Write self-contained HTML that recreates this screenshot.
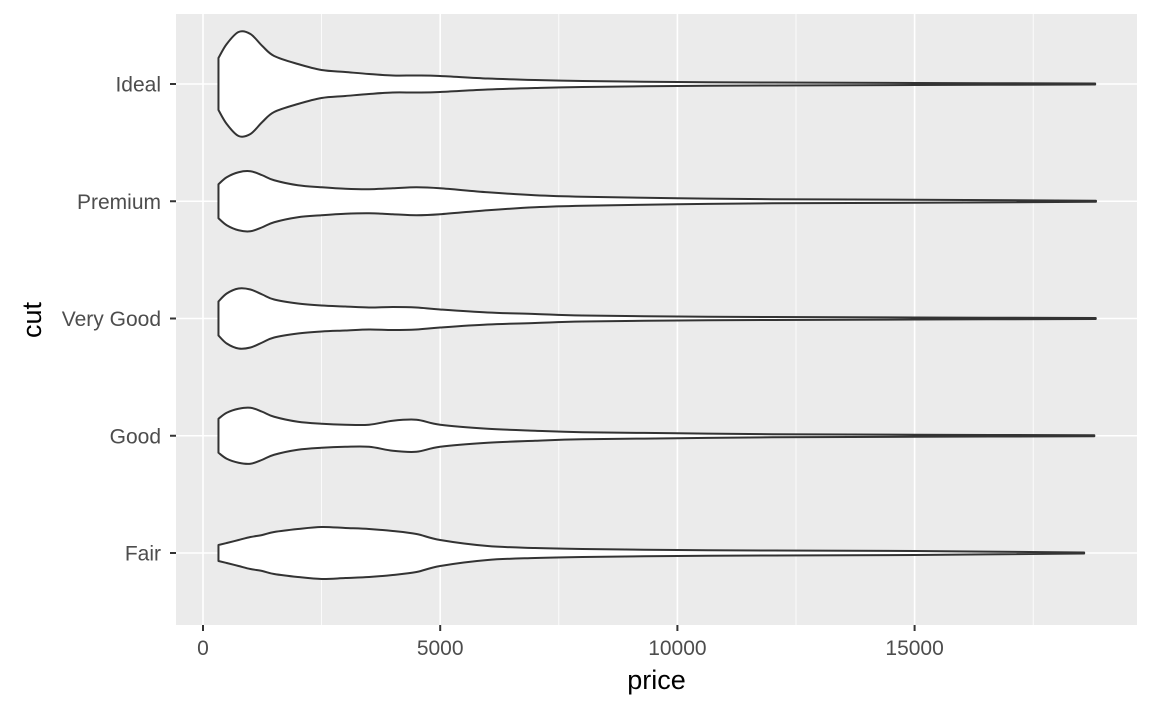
<!DOCTYPE html>
<html><head><meta charset="utf-8"><style>
body{margin:0;background:#fff;}
svg{display:block;font-family:"Liberation Sans",Arial,sans-serif;}
</style></head><body>
<svg id="chart" width="1152" height="711"></svg>
<script>
const categories=["Ideal","Premium","Very Good","Good","Fair"];
const prices=[326,500,750,1000,1250,1500,2000,2500,3000,3500,4000,4500,5000,6000,7000,8000,10000,12000,15000,18823];
const maxPrice=[18806,18823,18818,18788,18574];
const wIdeal=[26,40,52,50,38,28,20,14,12,10,8.5,8.5,8,5.5,4,3,2,1.5,1,0.5];
const wPremium=[17,24,29,30,26,21,16,14,12.5,12,13,14,13,9,6,4.5,3,2,1.5,0.5];
const wVeryGood=[17,25,30,29,24,19,15,13,12,11,11.5,11,9,6,4.5,3,2,1.5,1,0.5];
const wGood=[17,23,27,28,24,19,14,12,11,11,15,16,11,7,5,3.5,2.5,1.5,1,0.5];
const wFair=[8,10,13,16,18,21,24,26,25,24,22,19,13,7,5,4,3,2.5,2,0.5];
const widths=[wIdeal,wPremium,wVeryGood,wGood,wFair];
const xTicks=[0,5000,10000,15000];
const xMinor=[2500,7500,12500,17500];

const NS="http://www.w3.org/2000/svg";
const svg=document.getElementById("chart");
const P={l:176,r:1137,t:14,b:625};
const X=v=>203+v*(237.2/5000);
const Y=i=>84+i*117.25;
function el(t,a,parent){const e=document.createElementNS(NS,t);for(const k in a)e.setAttribute(k,a[k]);(parent||svg).appendChild(e);return e;}

const panel=el("rect",{x:P.l,y:P.t,width:P.r-P.l,height:P.b-P.t,fill:"#ebebeb"});


xMinor.forEach(v=>{const g=el("line",{x1:X(v),x2:X(v),y1:P.t,y2:P.b,stroke:"#fff","stroke-width":0.8});

});
xTicks.forEach(v=>{const g=el("line",{x1:X(v),x2:X(v),y1:P.t,y2:P.b,stroke:"#fff","stroke-width":1.6});

});
categories.forEach((c,i)=>{const g=el("line",{x1:P.l,x2:P.r,y1:Y(i),y2:Y(i),stroke:"#fff","stroke-width":1.6});

});

function smoothPath(pts){
  let d="M"+pts[0][0]+","+pts[0][1];
  for(let i=0;i<pts.length-1;i++){
    const p0=pts[Math.max(0,i-1)],p1=pts[i],p2=pts[i+1],p3=pts[Math.min(pts.length-1,i+2)];
    const c1=[p1[0]+(p2[0]-p0[0])/6,p1[1]+(p2[1]-p0[1])/6];
    const c2=[p2[0]-(p3[0]-p1[0])/6,p2[1]-(p3[1]-p1[1])/6];
    d+=" C"+c1[0]+","+c1[1]+" "+c2[0]+","+c2[1]+" "+p2[0]+","+p2[1];
  }
  return d;
}
categories.forEach((c,i)=>{
  const w=widths[i];const cy=Y(i);
  const pr=prices.map((p,k)=>k===prices.length-1?maxPrice[i]:Math.min(p,maxPrice[i]));
  const top=pr.map((p,k)=>[X(p),cy-w[k]]);
  const bot=pr.map((p,k)=>[X(p),cy+w[k]]).reverse();
  let d=smoothPath(top);
  const b=smoothPath(bot);
  d+=" L"+b.slice(1)+" Z";
  const v=el("path",{d:d,fill:"#fff",stroke:"#333","stroke-width":2,"stroke-linejoin":"round"});
  
  
  const tk=el("line",{x1:P.l-6,x2:P.l,y1:cy,y2:cy,stroke:"#333","stroke-width":2});
  
  
  const t=el("text",{x:P.l-15,y:cy+7.5,"text-anchor":"end","font-size":"21",fill:"#4d4d4d"});
  t.textContent=c;
  
  
});
xTicks.forEach(v=>{
  const tk=el("line",{x1:X(v),x2:X(v),y1:P.b,y2:P.b+6,stroke:"#333","stroke-width":2});
  
  
  const t=el("text",{x:X(v),y:P.b+30,"text-anchor":"middle","font-size":"21",fill:"#4d4d4d"});
  t.textContent=v;
  
  
});
const xt=el("text",{x:(P.l+P.r)/2,y:689,"text-anchor":"middle","font-size":"27",fill:"#000"});
xt.textContent="price";


const yt=el("text",{x:0,y:0,"text-anchor":"middle","font-size":"27",fill:"#000",transform:"translate(41,320) rotate(-90)"});
yt.textContent="cut";


</script>
</body></html>
